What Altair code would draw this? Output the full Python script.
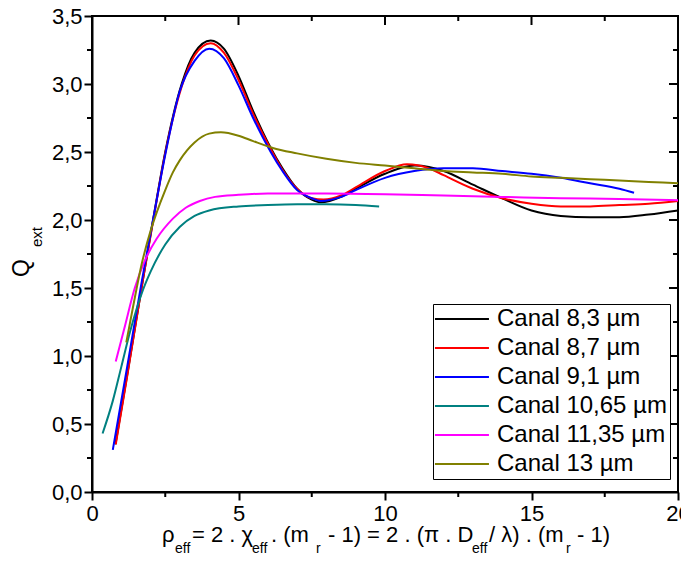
import altair as alt
import pandas as pd

# ---------------- data ----------------
series_names = ["Canal 8,3 µm", "Canal 8,7 µm", "Canal 9,1 µm",
                "Canal 10,65 µm", "Canal 11,35 µm", "Canal 13 µm"]
series_colors = ["#000000", "#FF0000", "#0000FF", "#008080", "#FF00FF", "#808000"]

black_x = [0.8, 1.2, 1.73, 2.1, 2.5, 3.06, 3.5, 4.05, 4.5, 5.0, 5.5, 6.1, 6.5, 7.0, 7.5, 7.8,
           8.5, 9.0, 10.0, 11.0, 11.5, 12.0, 13.0, 14.0, 15.0, 16.0, 17.0, 18.0, 19.0, 20.0]
black_y = [0.35, 0.86, 1.55, 2.02, 2.50, 3.00, 3.23, 3.32, 3.26, 3.06, 2.80, 2.53, 2.38, 2.23, 2.15, 2.13,
           2.17, 2.23, 2.34, 2.40, 2.39, 2.36, 2.26, 2.16, 2.07, 2.03, 2.02, 2.02, 2.04, 2.07]

red_x = [0.81, 1.2, 1.73, 2.1, 2.5, 3.06, 3.5, 4.05, 4.5, 5.0, 5.5, 6.1, 6.5, 7.0, 7.5, 7.9,
         8.5, 9.0, 10.0, 10.75, 11.5, 12.0, 13.0, 14.0, 15.0, 16.0, 17.0, 18.0, 19.0, 20.0]
red_y = [0.35, 0.85, 1.55, 2.01, 2.49, 2.98, 3.21, 3.30, 3.23, 3.03, 2.78, 2.52, 2.37, 2.23, 2.16, 2.15,
         2.18, 2.24, 2.36, 2.41, 2.38, 2.33, 2.23, 2.16, 2.12, 2.10, 2.10, 2.11, 2.12, 2.14]

blue_x = [0.71, 1.2, 1.7, 2.1, 2.5, 3.0, 3.5, 4.0, 4.5, 5.0, 5.5, 6.1, 6.5, 7.0, 7.5, 7.8,
          8.5, 9.0, 10.0, 11.0, 12.0, 13.0, 14.0, 15.0, 16.0, 17.0, 18.0, 18.5]
blue_y = [0.31, 0.92, 1.55, 2.02, 2.48, 2.95, 3.17, 3.26, 3.19, 2.99, 2.75, 2.50, 2.36, 2.22, 2.16, 2.14,
          2.17, 2.22, 2.31, 2.36, 2.38, 2.38, 2.36, 2.34, 2.31, 2.27, 2.23, 2.20]

teal_x = [0.36, 0.71, 1.0, 1.3, 1.73, 2.0, 2.5, 3.0, 3.5, 4.0, 5.0, 6.0, 7.0, 8.0, 9.0, 9.8]
teal_y = [0.43, 0.67, 0.92, 1.18, 1.48, 1.62, 1.82, 1.95, 2.03, 2.07, 2.10, 2.11, 2.115, 2.115, 2.11, 2.10]

magenta_x = [0.81, 1.1, 1.46, 1.8, 2.2, 2.76, 3.2, 3.68, 4.2, 5.0, 6.0, 8.0, 10.0, 12.0, 14.0, 16.0, 18.0, 20.0]
magenta_y = [0.96, 1.20, 1.50, 1.70, 1.86, 2.01, 2.09, 2.14, 2.17, 2.185, 2.195, 2.195, 2.19, 2.18, 2.17,
             2.16, 2.155, 2.145]

olive_x = [1.17, 1.4, 1.7, 2.0, 2.2, 2.5, 2.76, 3.0, 3.5, 4.0, 4.4, 5.0, 5.5, 6.17, 7.0, 8.0, 9.0, 10.0,
           11.0, 12.0, 13.0, 14.0, 15.0, 16.0, 17.0, 18.0, 19.0, 20.0]
olive_y = [1.10, 1.36, 1.68, 1.92, 2.05, 2.22, 2.35, 2.44, 2.57, 2.635, 2.645, 2.62, 2.58, 2.53, 2.49,
           2.45, 2.42, 2.40, 2.38, 2.36, 2.35, 2.34, 2.32, 2.31, 2.30, 2.29, 2.28, 2.27]

x_major = [0, 5, 10, 15, 20]
x_minor = [2.5, 7.5, 12.5, 17.5]
y_major = [0.0, 0.5, 1.0, 1.5, 2.0, 2.5, 3.0, 3.5]
y_minor = [0.25, 0.75, 1.25, 1.75, 2.25, 2.75, 3.25]

# ---------------- build table ----------------
xs_all = [black_x, red_x, blue_x, teal_x, magenta_x, olive_x]
ys_all = [black_y, red_y, blue_y, teal_y, magenta_y, olive_y]
rows = []
for k, (name, xs, ys) in enumerate(zip(series_names, xs_all, ys_all)):
    for xv, yv in zip(xs, ys):
        rows.append({"serie": name, "k": k, "x": xv, "y": yv})
df = pd.DataFrame(rows)

W, H = 586, 476
FONT = "Liberation Sans"

xscale = alt.Scale(domain=[0, 20], nice=False, zero=False)
yscale = alt.Scale(domain=[0, 3.5], nice=False, zero=False)

x_axis = alt.Axis(values=x_major, format=".0f", title=None, tickSize=8, labelPadding=3,
                  labelFlush=False, grid=False, domainColor="black", domainWidth=2,
                  tickColor="black", tickWidth=2, labelFont=FONT, labelFontSize=22,
                  labelColor="black")
y_axis = alt.Axis(values=y_major, title=None, tickSize=8, labelPadding=2, grid=False,
                  domainColor="black", domainWidth=2, tickColor="black", tickWidth=2,
                  labelFont=FONT, labelFontSize=22, labelColor="black",
                  labelExpr="replace(format(datum.value, '.1f'), '.', ',')")

lines = alt.Chart(df).mark_line(strokeWidth=2, interpolate="monotone").encode(
    x=alt.X("x:Q", scale=xscale, axis=x_axis),
    y=alt.Y("y:Q", scale=yscale, axis=y_axis),
    color=alt.Color("serie:N",
                    scale=alt.Scale(domain=series_names, range=series_colors),
                    sort=series_names,
                    legend=alt.Legend(title=None, orient="none", legendX=341, legendY=288,
                                      symbolType="M-1.45,0H4.55", symbolSize=324,
                                      symbolStrokeWidth=2, labelOffset=37, labelFontSize=24,
                                      labelFont=FONT, labelColor="black", strokeColor="black",
                                      fillColor="white", padding=3, rowPadding=5,
                                      labelLimit=400)),
    detail="k:O",
)


def tick_layer(values, channel, p0, p1):
    d = pd.DataFrame({"v": values})
    if channel == "x":
        return alt.Chart(d).mark_rule(color="black", strokeWidth=2).encode(
            x=alt.X("v:Q", scale=xscale, axis=x_axis), y=alt.value(p0), y2=alt.value(p1))
    return alt.Chart(d).mark_rule(color="black", strokeWidth=2).encode(
        y=alt.Y("v:Q", scale=yscale, axis=y_axis), x=alt.value(p0), x2=alt.value(p1))


ticks = [
    tick_layer(x_minor, "x", H, H + 5),      # bottom minor (outward)
    tick_layer(x_major, "x", 0, 9),          # top major (inward)
    tick_layer(x_minor, "x", 0, 5),          # top minor
    tick_layer(y_minor, "y", 0, -5),         # left minor (outward)
    tick_layer(y_major, "y", W, W - 9),      # right major (inward)
    tick_layer(y_minor, "y", W, W - 5),      # right minor
]


def label(text, px, py, size, angle=0):
    return alt.Chart(pd.DataFrame({"a": [0]})).mark_text(
        text=text, font=FONT, fontSize=size, color="black", align="left",
        baseline="alphabetic", angle=angle).encode(x=alt.value(px), y=alt.value(py))


MAIN, SUB = 22, 14
BY, SY = 526, 537
title_parts = [
    label("ρ", 70, BY, MAIN),
    label("eff", 83, SY, SUB),
    label("= 2 . χ", 100, BY, MAIN),
    label("eff", 160, SY, SUB),
    label(". (m", 179, BY, MAIN),
    label("r", 224, SY, SUB),
    label("- 1) = 2 . (π . D", 236, BY, MAIN),
    label("eff", 380, SY, SUB),
    label("/ λ) . (m", 397, BY, MAIN),
    label("r", 474, SY, SUB),
    label("- 1)", 485, BY, MAIN),
    label("Q", -63, 261, MAIN + 1, 270),
    label("ext", -50, 231, SUB + 1, 270),
]

chart = alt.layer(lines, *ticks, *title_parts).properties(
    width=W, height=H,
    autosize=alt.AutoSizeParams(type="none"),
    padding={"left": 84, "top": 8, "right": 3, "bottom": 62},
).configure_view(
    stroke="black", strokeWidth=2
)

chart.save("out.html", embed_options={"renderer": "svg", "actions": False})
